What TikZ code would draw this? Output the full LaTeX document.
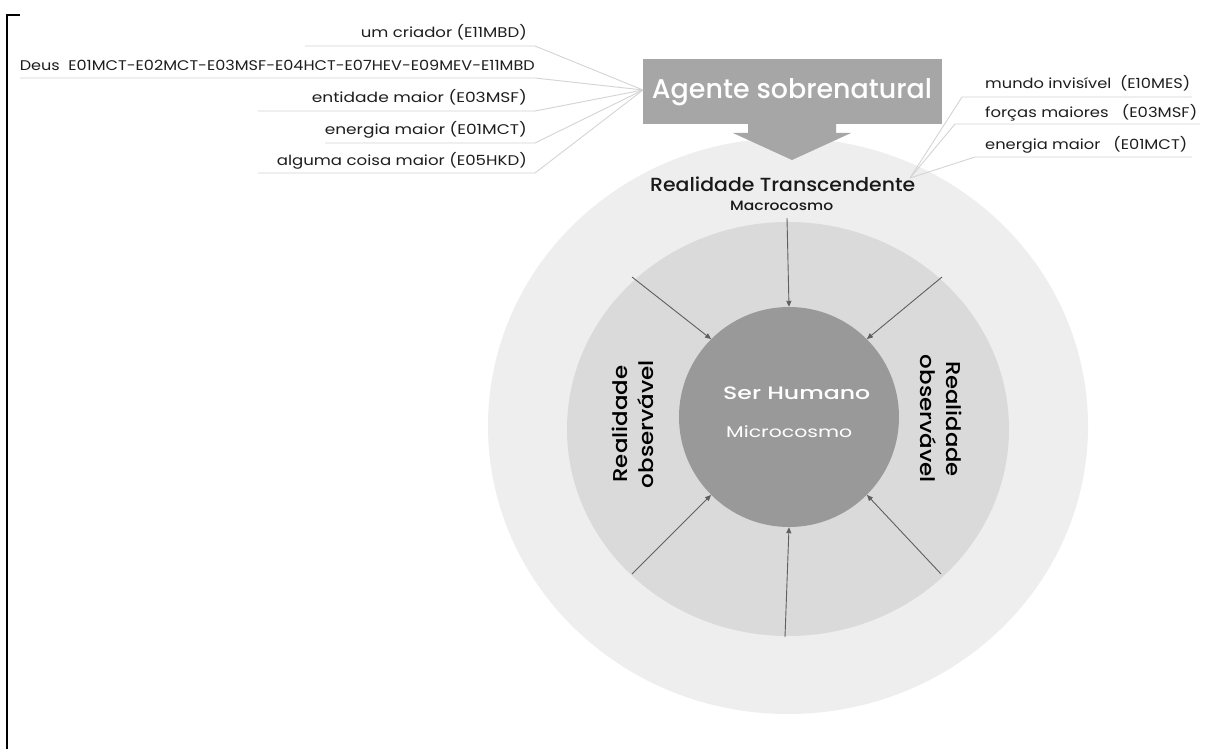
\documentclass[tikz,border=0pt]{standalone}
\usepackage{fontspec}
\usepackage{graphicx}
\setmainfont{Poppins}
\newfontfamily\medfont{Poppins Medium}
\usetikzlibrary{arrows.meta}
\definecolor{outerfill}{HTML}{EEEEEE}
\definecolor{ringfill}{HTML}{DADADA}
\definecolor{corefill}{HTML}{999999}
\definecolor{boxfill}{HTML}{A6A6A6}
\definecolor{arrowgray}{HTML}{5F5F5F}
\definecolor{leadgray}{HTML}{D4D4D4}
\definecolor{labelink}{HTML}{1E1E1E}
% set a text to a given width, keeping its natural height
\newcommand{\fitw}[2]{\resizebox{#1pt}{\height}{#2}}

\begin{document}
\begin{tikzpicture}[x=1pt,y=-1pt,
  lbl/.style={inner sep=0pt, text=labelink, font=\fontsize{14}{14}\selectfont},
  lead/.style={draw=leadgray, line width=0.9pt},
  inflow/.style={draw=arrowgray, line width=0.9pt, -{Triangle[length=6pt,width=5pt]}},
  side/.style={inner sep=0pt, align=center, text=black, font=\medfont\fontsize{20}{26}\selectfont},
  ]
\useasboundingbox (0,0) rectangle (1208,749);
\fill[white] (0,0) rectangle (1208,749);

% frame corner on the left
\draw[line width=2pt] (20,15) -- (7,15) -- (7,750);

% the three nested discs
\fill[outerfill] (788,426) ellipse [x radius=300pt, y radius=288pt];
\fill[ringfill] (788,429) ellipse [x radius=221pt, y radius=207pt];
\node[circle, fill=corefill, minimum size=220pt, inner sep=0pt] (human) at (789,417) {};

% supernatural agent box and its block arrow
\fill[boxfill] (748,123) -- (836,123) -- (836,133) -- (851,133) -- (792,160) -- (733,133) -- (748,133) -- cycle;
\node[fill=boxfill, minimum width=299pt, minimum height=65pt, inner sep=0pt] (agent) at (792.5,91.5) {};
\node[inner sep=0pt, text=white, font=\medfont\fontsize{27}{27}\selectfont] (agenttxt) at (792,92) {\fitw{280}{Agente sobrenatural}};

% titles of the transcendent reality
\node[inner sep=0pt, anchor=base west, text=black!90, font=\medfont\fontsize{19}{19}\selectfont] (transc) at (650,192) {\fitw{265}{Realidade Transcendente}};
\node[inner sep=0pt, anchor=base west, text=black!90, font=\medfont\fontsize{13.5}{13.5}\selectfont] (macro) at (730,211) {\fitw{103}{Macrocosmo}};

% human being at the centre
\node[inner sep=0pt, anchor=base west, text=white, font=\medfont\fontsize{18}{18}\selectfont] (ser) at (723,399) {\fitw{147}{Ser Humano}};
\node[inner sep=0pt, anchor=base west, text=white, font=\fontsize{15.5}{15.5}\selectfont] (micro) at (726,437) {\fitw{126}{Microcosmo}};

% observable reality on both sides
\node[side, rotate=90] (obsL) at (632.5,424) {\fitw{117}{Realidade}\\\fitw{128}{observável}};
\node[side, rotate=-90] (obsR) at (941.5,419) {\fitw{116}{Realidade}\\\fitw{128}{observável}};

% influences flowing into the human being
\coordinate (tN)  at (787,218);
\coordinate (tNW) at (632,277);
\coordinate (tNE) at (942,277);
\coordinate (tSW) at (632,574);
\coordinate (tS)  at (785,637);
\coordinate (tSE) at (941,574);
\draw[inflow] (tN)  -- (human.90);
\draw[inflow] (tNW) -- (human.135);
\draw[inflow] (tNE) -- (human.45);
\draw[inflow] (tSW) -- (human.225);
\draw[inflow] (tS)  -- (human.270);
\draw[inflow] (tSE) -- (human.315);

% names given to the supernatural agent
\node[lbl, anchor=base east] (l1) at (527,38)  {\fitw{166}{um criador (E11MBD)}};
\node[lbl, anchor=base east] (l2) at (535,71)  {\fitw{515}{Deus\ \ E01MCT-E02MCT-E03MSF-E04HCT-E07HEV-E09MEV-E11MBD}};
\node[lbl, anchor=base east] (l3) at (527,103) {\fitw{215}{entidade maior (E03MSF)}};
\node[lbl, anchor=base east] (l4) at (527,135) {\fitw{202}{energia maior (E01MCT)}};
\node[lbl, anchor=base east] (l5) at (527,166) {\fitw{250}{alguma coisa maior (E05HKD)}};

\coordinate (u1) at (305,46);  \coordinate (e1) at (535,46);
\coordinate (u2) at (20,78);   \coordinate (e2) at (535,78);
\coordinate (u3) at (258,111); \coordinate (e3) at (535,111);
\coordinate (u4) at (325,143); \coordinate (e4) at (535,143);
\coordinate (u5) at (258,173); \coordinate (e5) at (535,173);
\coordinate (hub) at (643,90);
\foreach \i in {1,...,5} {\draw[lead] (u\i) -- (e\i) -- (hub);}

% names given to the transcendent reality
\node[lbl, anchor=base west] (r1) at (985,89)  {\fitw{205}{mundo invisível\ \ (E10MES)}};
\node[lbl, anchor=base west] (r2) at (985,118) {\fitw{212}{forças maiores\ \ \ (E03MSF)}};
\node[lbl, anchor=base west] (r3) at (985,150) {\fitw{202}{energia maior\ \ \ (E01MCT)}};

\coordinate (v1) at (962,97);  \coordinate (w1) at (1192,97);
\coordinate (v2) at (955,124); \coordinate (w2) at (1200,124);
\coordinate (v3) at (975,157); \coordinate (w3) at (1192,157);
\coordinate (rhub) at (910,178);
\foreach \i in {1,2,3} {\draw[lead] (rhub) -- (v\i) -- (w\i);}
\end{tikzpicture}
\end{document}
